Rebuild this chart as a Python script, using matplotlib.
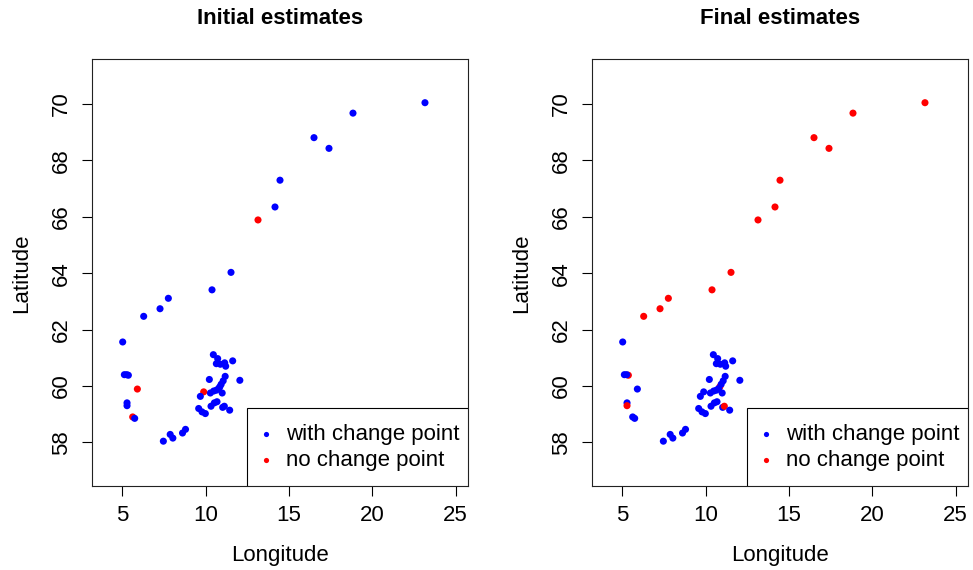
import numpy as np
import matplotlib
matplotlib.use("Agg")
import matplotlib.pyplot as plt
from matplotlib.patches import Rectangle

plt.rcParams['font.family'] = ['Liberation Sans', 'DejaVu Sans']

# station coordinates (lon, lat)
lon = [5.36, 5.02, 5.12, 5.26, 5.90, 5.28, 5.28, 5.62, 5.74,
       7.46, 7.87, 8.03, 8.61, 8.79,
       6.28, 7.26, 7.76, 10.38, 11.52, 13.14, 14.16, 14.46,
       16.50, 17.40, 18.84, 23.16,
       10.85, 10.46, 10.72, 10.64, 10.88, 11.14, 11.20, 11.62,
       10.22, 11.17, 11.05, 10.93, 10.78, 10.64, 10.48, 10.28,
       9.88, 9.68, 12.05, 10.99, 9.58, 9.78, 9.98, 10.32,
       10.52, 10.68, 11.02, 11.12, 11.44]
lat = [60.38, 61.56, 60.40, 60.40, 59.89, 59.40, 59.30, 58.90, 58.85,
       58.04, 58.28, 58.15, 58.33, 58.46,
       62.47, 62.74, 63.11, 63.41, 64.03, 65.89, 66.35, 67.30,
       68.81, 68.43, 69.68, 70.05,
       59.97, 61.11, 60.97, 60.79, 60.77, 60.82, 60.70, 60.89,
       60.23, 60.34, 60.18, 60.06, 59.91, 59.85, 59.82, 59.75,
       59.79, 59.63, 60.20, 59.75, 59.20, 59.08, 59.02, 59.28,
       59.40, 59.44, 59.24, 59.28, 59.14]

# 1 = with change point, 0 = no change point
cp_initial = [1, 1, 1, 1, 0, 1, 1, 0, 1,
              1, 1, 1, 1, 1,
              1, 1, 1, 1, 1, 0, 1, 1,
              1, 1, 1, 1,
              1, 1, 1, 1, 1, 1, 1, 1,
              1, 1, 1, 1, 1, 1, 1, 1,
              0, 1, 1, 1, 1, 1, 1, 1,
              1, 1, 1, 1, 1]
cp_final = [0, 1, 1, 1, 1, 1, 0, 1, 1,
            1, 1, 1, 1, 1,
            0, 0, 0, 0, 0, 0, 0, 0,
            0, 0, 0, 0,
            0, 1, 1, 1, 1, 1, 1, 1,
            1, 1, 1, 1, 1, 1, 1, 1,
            1, 1, 1, 1, 1, 1, 1, 1,
            1, 1, 1, 0, 1]

titles = ["Initial estimates", "Final estimates"]
labels = ["with change point", "no change point"]
label_cols = ["blue", "red"]

fig = plt.figure(figsize=(9.73, 5.7), dpi=100)
W, H = 973, 570


def panel(x0, flags, title):
    ax = fig.add_axes([x0 / W, 84 / H, 376.6 / W, 426.7 / H])
    cols = ["blue" if f else "red" for f in flags]
    ax.scatter(lon, lat, c=cols, s=26, linewidths=0, zorder=3)
    ax.set_xlim(3.16, 25.76)
    ax.set_ylim(56.45, 71.59)
    ax.set_xticks([5, 10, 15, 20, 25])
    ax.set_yticks(np.arange(58, 71, 2))
    ax.tick_params(direction="out", length=7, width=0.8, labelsize=16,
                   colors="black", pad=7)
    for lab in ax.get_yticklabels():
        lab.set_rotation(90)
        lab.set_va("center")
    for sp in ax.spines.values():
        sp.set_linewidth(0.8)
        sp.set_color("#222222")

    # R-style legend box in the bottom right corner
    ax.add_patch(Rectangle((0.4116, 0), 1 - 0.4116, 0.182,
                           transform=ax.transAxes, facecolor="white",
                           edgecolor="black", linewidth=0.8, zorder=4))
    for i, (lab, c) in enumerate(zip(labels, label_cols)):
        yy = 0.1212 - i * 0.0603
        ax.scatter([0.4628], [yy], transform=ax.transAxes, c=c, s=14,
                   linewidths=0, zorder=5, clip_on=False)
        ax.text(0.515, yy, lab, transform=ax.transAxes, fontsize=16,
                va="center", ha="left", zorder=5)

    cx = (x0 + 188.3) / W
    fig.text(cx, 1 - 18 / H, title, ha="center", va="center",
             fontsize=16, fontweight="bold")
    fig.text(cx, 1 - 555 / H, "Longitude", ha="center", va="center",
             fontsize=16)
    fig.text((x0 - 70) / W, (84 + 213) / H, "Latitude", ha="center",
             va="center", rotation=90, fontsize=16)
    return ax


panel(91.7, cp_initial, titles[0])
panel(591.7, cp_final, titles[1])

fig.savefig("out.png", dpi=100)
